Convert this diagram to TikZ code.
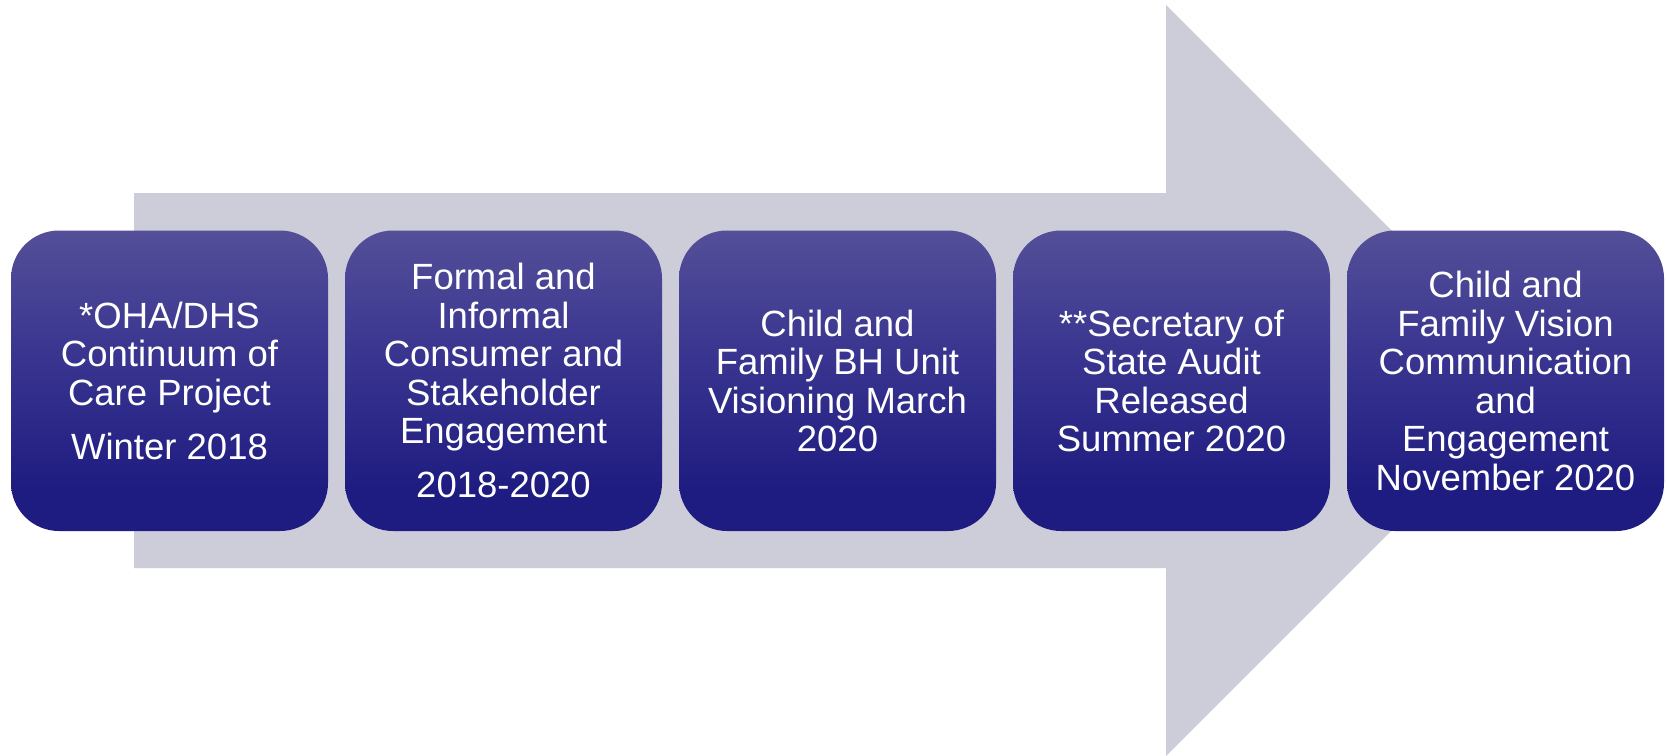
\documentclass[tikz,border=0pt]{standalone}
\usepackage{fontspec}
\setmainfont{Liberation Sans}
\definecolor{arrowgray}{HTML}{CDCDD9}
\definecolor{boxtop}{HTML}{544F98}
\definecolor{boxmid}{HTML}{3A3690}
\definecolor{boxbot}{HTML}{1F1C81}
\pgfdeclareverticalshading{boxgrad}{100bp}{color(0bp)=(boxbot); color(25bp)=(boxbot); color(32bp)=(boxbot); color(55bp)=(boxmid); color(75bp)=(boxtop); color(100bp)=(boxtop)}
\tikzset{
  stagebox/.style={rectangle, rounded corners=48pt, minimum width=317pt, minimum height=300.5pt,
    inner sep=0pt, shading=boxgrad, text=white, align=center,
    font=\fontsize{36.5pt}{38.5pt}\selectfont},
}
\begin{document}
\begin{tikzpicture}[x=1pt,y=-1pt]
\useasboundingbox (0,0) rectangle (1667,755);
\fill[white] (0,0) rectangle (1667,755);
% big arrow
\fill[arrowgray] (134,193) -- (1166,193) -- (1166,5) -- (1541.5,380.5) -- (1166,756) -- (1166,568) -- (134,568) -- cycle;
% stages
\node[stagebox] (s1) at (169.5,380.75) {*OHA/DHS\\Continuum of\\Care Project\\[15.5pt]Winter 2018};
\node[stagebox] (s2) at (503.5,380.75) {Formal and\\Informal\\Consumer and\\Stakeholder\\Engagement\\[15.5pt]2018-2020};
\node[stagebox] (s3) at (837.5,380.75) {Child and\\Family BH Unit\\Visioning March\\2020};
\node[stagebox] (s4) at (1171.5,380.75) {**Secretary of\\State Audit\\Released\\Summer 2020};
\node[stagebox] (s5) at (1505.5,380.75) {Child and\\Family Vision\\Communication\\and\\Engagement\\November 2020};
\end{tikzpicture}
\end{document}
